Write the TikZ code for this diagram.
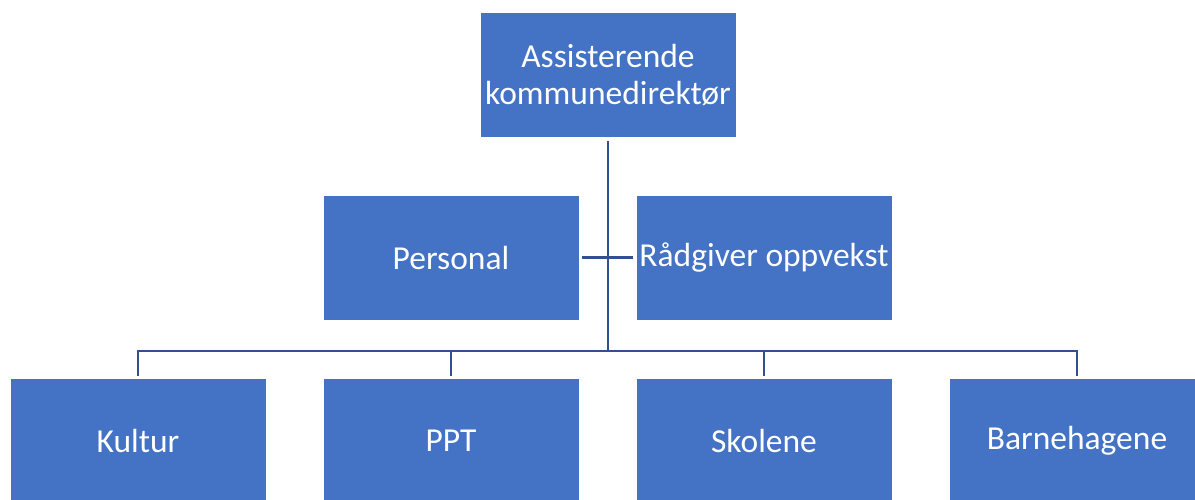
\documentclass[tikz,border=0pt]{standalone}
\usepackage{fontspec}
\setmainfont{Carlito}
\usetikzlibrary{positioning}
\definecolor{boxblue}{HTML}{4472C4}
\definecolor{lineblue}{HTML}{2F528F}
\tikzset{
  unit/.style={fill=boxblue, draw=white, line width=0.8pt, text=white,
    minimum width=256pt, minimum height=125pt, inner sep=0pt,
    align=center, font=\fontsize{33.5}{37}\selectfont},
  link/.style={draw=lineblue, line width=2.4pt}
}
\begin{document}
\begin{tikzpicture}[x=1pt, y=-1pt]
  \useasboundingbox (0,0) rectangle (1195,500);
  % top level
  \node[unit] (chief) at (608,74.5) {Assisterende\\kommunedirektør};
  % staff
  \node[unit] (personal) at (451,257.5) {Personal};
  \node[unit] (advisor) at (764,257.5) {Rådgiver oppvekst};
  % units
  \node[unit] (kultur) at (138,440.5) {Kultur};
  \node[unit] (ppt) at (451,440.5) {PPT};
  \node[unit] (skolene) at (764,440.5) {Skolene};
  \node[unit] (barnehagene) at (1077,440.5) {Barnehagene};
  \coordinate (hub) at (608,351);
  % connectors
  \draw[link, shorten <=4pt] (chief) -- (hub);
  \draw[link, shorten <=3pt, shorten >=3pt] (personal) -- (advisor);
  \foreach \n in {kultur, ppt, skolene, barnehagene}
    \draw[link, shorten >=2pt] (hub) -| (\n.north);
\end{tikzpicture}
\end{document}
